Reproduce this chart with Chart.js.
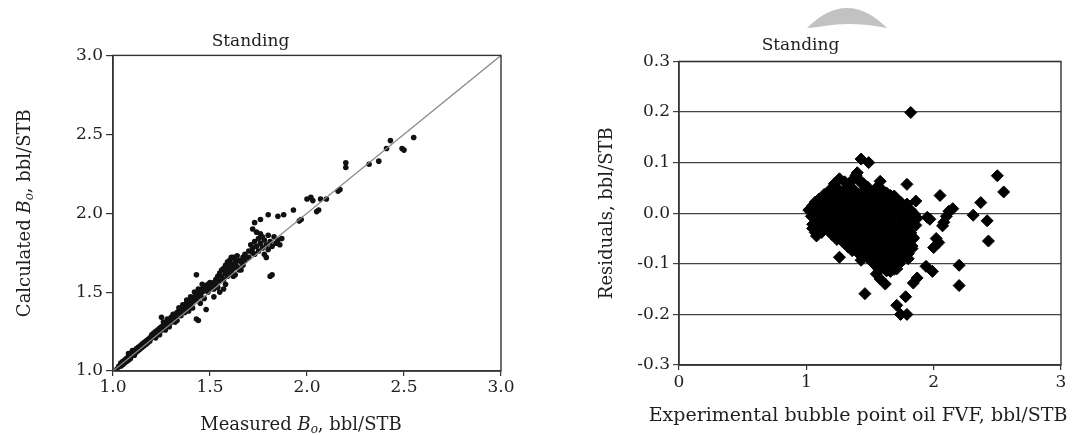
<!DOCTYPE html>
<html>
<head>
<meta charset="utf-8">
<script src="https://cdn.jsdelivr.net/npm/chart.js@4.4.0/dist/chart.umd.min.js"></script>
<style>
  html, body { margin: 0; padding: 0; background: #fff; }
  #wrap { position: relative; width: 1072px; height: 435px; }
  #left { position: absolute; left: 0; top: 0; width: 540px; height: 435px; }
  #right { position: absolute; left: 540px; top: 0; width: 532px; height: 435px; }
</style>
</head>
<body>
<div id="wrap">
  <div id="left"><canvas id="chartLeft"></canvas></div>
  <div id="right"><canvas id="chartRight"></canvas></div>
</div>
<script>
// left panel: measured vs calculated Bo (bbl/STB)
const measuredBo = [
  1.02,1.03,1.04,1.04,1.05,1.05,1.06,1.06,1.07,1.07,
  1.08,1.08,1.08,1.09,1.09,1.10,1.10,1.11,1.11,1.12,
  1.12,1.13,1.13,1.14,1.14,1.15,1.15,1.16,1.16,1.17,
  1.17,1.18,1.18,1.19,1.19,1.20,1.20,
  1.21,1.21,1.22,1.22,1.22,1.23,1.23,1.24,1.24,1.24,
  1.25,1.25,1.25,1.26,1.26,1.26,1.27,1.27,1.27,1.28,
  1.28,1.28,1.29,1.29,1.29,1.30,1.30,1.30,1.31,1.31,
  1.31,1.32,1.32,1.32,1.33,1.33,1.33,1.34,1.34,1.34,
  1.35,1.35,1.35,1.36,1.36,1.36,1.37,1.37,1.37,1.38,
  1.38,1.38,1.39,1.39,1.39,1.40,1.40,1.40,1.41,1.41,
  1.41,1.42,1.42,1.42,1.43,1.43,1.43,1.43,1.44,1.44,
  1.44,1.44,1.45,1.45,1.45,1.46,1.46,1.46,1.47,1.47,
  1.47,1.48,1.48,1.48,1.49,1.49,1.49,1.50,1.50,1.50,
  1.51,1.51,1.52,1.52,1.52,1.53,1.53,1.54,1.54,1.55,
  1.55,1.55,1.56,1.56,1.57,1.57,1.57,1.58,1.58,1.58,
  1.59,1.59,1.59,1.60,1.60,1.60,1.61,1.61,1.61,1.62,
  1.62,1.62,1.63,1.63,1.63,1.64,1.64,1.65,1.65,1.66,
  1.66,1.67,1.67,1.68,
  1.68,1.69,1.70,1.70,1.71,1.72,1.72,1.73,1.73,1.74,
  1.74,1.75,1.75,1.76,1.76,1.77,1.77,1.78,1.78,1.79,
  1.79,1.80,1.80,1.81,1.81,1.82,1.82,1.83,1.84,1.85,
  1.86,1.87,
  1.72,1.73,1.76,1.80,1.85,1.88,1.93,1.96,1.97,2.00,
  2.02,2.03,2.05,2.06,2.07,2.10,2.16,2.17,2.20,2.20,
  2.32,2.37,2.41,2.43,2.49,2.50,2.55
];
const calculatedBo = [
  1.01,1.03,1.03,1.05,1.06,1.04,1.07,1.05,1.08,1.06,
  1.09,1.07,1.11,1.10,1.08,1.11,1.13,1.12,1.10,1.14,
  1.12,1.15,1.13,1.16,1.14,1.17,1.15,1.18,1.16,1.19,
  1.17,1.20,1.18,1.21,1.19,1.23,1.21,
  1.22,1.24,1.25,1.23,1.21,1.26,1.24,1.27,1.25,1.23,
  1.28,1.26,1.34,1.29,1.27,1.31,1.30,1.28,1.26,1.31,
  1.29,1.33,1.32,1.30,1.28,1.34,1.31,1.33,1.34,1.32,
  1.36,1.36,1.33,1.31,1.37,1.35,1.32,1.38,1.36,1.40,
  1.39,1.37,1.35,1.40,1.38,1.42,1.42,1.39,1.37,1.43,
  1.40,1.45,1.44,1.41,1.38,1.45,1.42,1.47,1.46,1.44,
  1.40,1.47,1.45,1.50,1.49,1.46,1.33,1.61,1.50,1.47,
  1.32,1.52,1.51,1.48,1.43,1.52,1.50,1.55,1.53,1.51,
  1.46,1.54,1.52,1.39,1.55,1.53,1.50,1.54,1.52,1.56,
  1.55,1.53,1.56,1.52,1.47,1.58,1.55,1.53,1.60,1.57,
  1.62,1.50,1.60,1.64,1.65,1.58,1.52,1.67,1.62,1.55,
  1.69,1.64,1.60,1.66,1.70,1.62,1.63,1.68,1.72,1.72,
  1.65,1.60,1.68,1.61,1.70,1.73,1.66,1.70,1.64,1.64,
  1.69,1.72,1.67,1.70,
  1.74,1.72,1.76,1.72,1.80,1.78,1.75,1.74,1.82,1.79,
  1.88,1.84,1.76,1.81,1.87,1.78,1.85,1.83,1.74,1.80,
  1.72,1.86,1.77,1.82,1.60,1.79,1.61,1.85,1.81,1.83,
  1.80,1.84,
  1.90,1.94,1.96,1.99,1.98,1.99,2.02,1.95,1.96,2.09,
  2.10,2.08,2.01,2.02,2.09,2.09,2.14,2.15,2.32,2.29,
  2.31,2.33,2.41,2.46,2.41,2.40,2.48
];
const parityLine = [1.0, 3.0];
const boTicks = [1.0, 1.5, 2.0, 2.5, 3.0];

// right panel: residuals vs experimental bubble point oil FVF
const experimentalFvf = [
  1.40,1.43,1.49,
  1.22,1.30,1.36,1.40,1.45,1.58,
  1.26,1.33,1.39,1.43,1.48,1.55,
  1.18,1.25,1.32,1.38,1.44,1.52,1.60,1.66,
  1.14,1.21,1.28,1.35,1.41,1.48,1.56,1.63,1.69,
  1.10,1.15,1.20,1.27,1.34,1.41,1.47,1.55,1.62,1.70,1.74,
  1.07,1.13,1.19,1.24,1.31,1.38,1.44,1.51,1.58,1.66,1.72,1.79,
  1.05,1.10,1.16,1.22,1.29,1.36,1.43,1.50,1.57,1.64,1.71,1.77,
  1.03,1.08,1.13,1.19,1.26,1.33,1.40,1.47,1.54,1.61,1.68,1.75,1.82,
  1.02,1.06,1.12,1.18,1.24,1.30,1.37,1.44,1.51,1.58,1.65,1.72,1.79,1.85,
  1.04,1.10,1.16,1.21,1.27,1.34,1.41,1.47,1.55,1.62,1.69,1.76,1.82,1.87,
  1.08,1.14,1.20,1.27,1.34,1.41,1.48,1.55,1.62,1.76,1.83,
  1.05,1.11,1.17,1.24,1.31,1.38,1.45,1.52,1.59,1.66,1.73,1.79,1.86,
  1.06,1.16,1.23,1.30,1.37,1.44,1.51,1.58,1.65,1.72,1.80,
  1.12,1.19,1.26,1.33,1.40,1.47,1.54,1.61,1.68,1.75,1.82,
  1.08,1.20,1.27,1.34,1.41,1.48,1.55,1.62,1.69,1.76,1.84,
  1.24,1.31,1.38,1.45,1.52,1.59,1.66,1.73,1.80,
  1.30,1.37,1.44,1.51,1.58,1.65,1.72,1.79,
  1.33,1.40,1.48,1.55,1.62,1.69,1.76,1.83,
  1.36,1.45,1.52,1.59,1.66,1.73,1.80,
  1.42,1.49,1.56,1.63,1.70,1.77,
  1.49,1.55,1.62,1.69,1.76,
  1.52,1.58,1.65,1.72,
  1.55,1.61,1.68,1.73,
  1.57,1.63,1.69,
  1.55,1.58,1.62,1.66,1.71,
  1.82,1.79,1.86,2.05,2.15,2.12,2.10,2.08,2.07,1.95,
  1.97,2.31,2.37,2.42,2.43,2.50,2.55,2.20,2.20,2.02,
  2.04,2.00,1.99,1.94,1.87,1.84,1.78,1.71,1.74,1.79,
  1.46,1.26,1.43,1.07,1.05,1.84,1.83,1.80
];
const residuals = [
  0.080,0.107,0.100,
  0.058,0.062,0.065,0.070,0.058,0.063,
  0.068,0.057,0.075,0.060,0.052,0.050,
  0.045,0.048,0.050,0.045,0.042,0.040,0.045,0.035,
  0.037,0.040,0.038,0.041,0.036,0.038,0.037,0.040,0.034,
  0.028,0.030,0.032,0.030,0.028,0.030,0.025,0.030,0.028,0.030,0.022,
  0.022,0.024,0.023,0.021,0.023,0.022,0.020,0.022,0.024,0.021,0.020,0.018,
  0.015,0.015,0.018,0.015,0.016,0.014,0.012,0.016,0.013,0.015,0.012,0.010,
  0.009,0.008,0.007,0.009,0.008,0.006,0.007,0.009,0.006,0.008,0.005,0.007,0.006,
  0.006,0.002,0.000,-0.002,0.002,-0.003,0.000,-0.002,0.001,-0.003,0.000,-0.002,0.001,-0.002,
  -0.006,-0.008,-0.007,-0.009,-0.006,-0.008,-0.007,-0.009,-0.006,-0.008,-0.007,-0.006,-0.009,-0.010,
  -0.012,-0.015,-0.014,-0.016,-0.013,-0.017,-0.015,-0.012,-0.016,-0.014,-0.018,
  -0.022,-0.021,-0.023,-0.022,-0.024,-0.021,-0.023,-0.022,-0.024,-0.021,-0.023,-0.022,-0.024,
  -0.030,-0.028,-0.030,-0.032,-0.029,-0.031,-0.028,-0.030,-0.033,-0.030,-0.027,
  -0.038,-0.036,-0.038,-0.039,-0.037,-0.038,-0.036,-0.039,-0.038,-0.037,-0.039,
  -0.045,-0.042,-0.045,-0.047,-0.044,-0.046,-0.043,-0.048,-0.045,-0.044,-0.048,
  -0.052,-0.053,-0.051,-0.054,-0.052,-0.053,-0.055,-0.052,-0.054,
  -0.060,-0.062,-0.058,-0.061,-0.063,-0.060,-0.058,-0.062,
  -0.067,-0.068,-0.069,-0.067,-0.070,-0.068,-0.067,-0.070,
  -0.074,-0.078,-0.076,-0.074,-0.077,-0.075,-0.080,
  -0.082,-0.084,-0.083,-0.085,-0.082,-0.084,
  -0.090,-0.092,-0.088,-0.091,-0.089,
  -0.097,-0.099,-0.098,-0.096,
  -0.105,-0.108,-0.104,-0.100,
  -0.112,-0.114,-0.111,
  -0.120,-0.130,-0.140,-0.115,-0.110,
  0.199,0.057,0.024,0.035,0.009,0.004,-0.006,-0.018,-0.025,-0.008,
  -0.012,-0.004,0.021,-0.015,-0.055,0.074,0.042,-0.103,-0.143,-0.050,
  -0.058,-0.068,-0.115,-0.105,-0.128,-0.138,-0.165,-0.182,-0.200,-0.200,
  -0.159,-0.087,-0.093,-0.038,-0.030,-0.050,-0.065,-0.090
];

const FONT = 'DejaVu Serif';
const INK = '#1f1f1f';
Chart.defaults.font.family = FONT;
Chart.defaults.font.size = 17;
Chart.defaults.color = INK;

// full box around the plot area
const frame = {
  id: 'frame',
  afterDatasetsDraw(chart) {
    const { ctx, chartArea: a } = chart;
    ctx.save();
    ctx.strokeStyle = '#333';
    ctx.lineWidth = 1.4;
    ctx.strokeRect(a.left, a.top, a.right - a.left, a.bottom - a.top);
    ctx.restore();
  }
};

function drawRich(ctx, parts, cx, cy, rotate) {
  ctx.save();
  ctx.translate(cx, cy);
  if (rotate) ctx.rotate(-Math.PI / 2);
  ctx.textBaseline = 'middle';
  ctx.fillStyle = INK;
  let total = 0;
  parts.forEach(p => { ctx.font = p.font; total += ctx.measureText(p.text).width; });
  let x = -total / 2;
  parts.forEach(p => {
    ctx.font = p.font;
    ctx.fillText(p.text, x, p.dy || 0);
    x += ctx.measureText(p.text).width;
  });
  ctx.restore();
}

function boParts(prefix) {
  return [
    { text: prefix, font: '18px "DejaVu Serif"' },
    { text: 'B', font: 'italic 18px "DejaVu Serif"' },
    { text: 'o', font: 'italic 12px "DejaVu Serif"', dy: 5 },
    { text: ', bbl/STB', font: '18px "DejaVu Serif"' }
  ];
}

const boTitles = {
  id: 'boTitles',
  afterDraw(chart) {
    const { ctx, chartArea: a } = chart;
    drawRich(ctx, boParts('Measured '), (a.left + a.right) / 2 - 6, 425, false);
    drawRich(ctx, boParts('Calculated '), 25, (a.top + a.bottom) / 2, true);
  }
};

new Chart(document.getElementById('chartLeft'), {
  type: 'scatter',
  data: {
    datasets: [{
      type: 'line',
      data: parityLine.map(v => ({ x: v, y: v })),
      borderColor: '#8a8a8a',
      borderWidth: 1.3,
      pointRadius: 0
    }, {
      data: measuredBo.map((m, i) => ({ x: m, y: calculatedBo[i] })),
      backgroundColor: '#111',
      borderColor: '#111',
      borderWidth: 0,
      pointRadius: 2.8
    }]
  },
  options: {
    responsive: true,
    maintainAspectRatio: false,
    animation: false,
    layout: { padding: { left: 0, right: 39, top: 0, bottom: 0 } },
    plugins: {
      legend: { display: false },
      tooltip: { enabled: false },
      title: {
        display: true,
        text: 'Standing',
        font: { size: 17, weight: 'normal' },
        color: INK,
        padding: { top: 31, bottom: 4 }
      }
    },
    scales: {
      x: {
        type: 'linear', min: 1, max: 3,
        afterBuildTicks: s => { s.ticks = boTicks.map(v => ({ value: v })); },
        ticks: { callback: v => v.toFixed(1), padding: 1, maxRotation: 0 },
        grid: { drawOnChartArea: false, tickLength: 5, color: '#333', lineWidth: 1.2 },
        border: { color: '#333', width: 1.4 },
        afterFit: s => { s.height = 64; }
      },
      y: {
        type: 'linear', min: 1, max: 3,
        afterBuildTicks: s => { s.ticks = boTicks.map(v => ({ value: v })); },
        ticks: { callback: v => v.toFixed(1), padding: 3 },
        grid: { drawOnChartArea: false, tickLength: 7, color: '#333', lineWidth: 1.2 },
        border: { color: '#333', width: 1.4 },
        afterFit: s => { s.width = 113; }
      }
    }
  },
  plugins: [frame, boTitles]
});

// grey smudge above the right panel title
const smudge = {
  id: 'smudge',
  beforeDraw(chart) {
    const ctx = chart.ctx;
    ctx.save();
    ctx.fillStyle = '#c2c2c2';
    ctx.beginPath();
    ctx.moveTo(267, 28);
    ctx.quadraticCurveTo(307, -12, 347, 28);
    ctx.quadraticCurveTo(312, 21, 284, 26);
    ctx.quadraticCurveTo(276, 27.5, 267, 28);
    ctx.closePath();
    ctx.fill();
    ctx.restore();
  }
};

// x title is wider than the plot, so it is drawn here rather than by the scale
const fvfTitle = {
  id: 'fvfTitle',
  afterDraw(chart) {
    drawRich(chart.ctx, [{ text: 'Experimental bubble point oil FVF, bbl/STB', font: '19px "DejaVu Serif"' }], 318, 416, false);
  }
};

new Chart(document.getElementById('chartRight'), {
  type: 'scatter',
  data: {
    datasets: [{
      data: experimentalFvf.map((x, i) => ({ x: x, y: residuals[i] })),
      pointStyle: 'rectRot',
      pointRadius: 6,
      backgroundColor: '#000',
      borderColor: '#000',
      borderWidth: 1
    }]
  },
  options: {
    responsive: true,
    maintainAspectRatio: false,
    animation: false,
    layout: { padding: { left: 0, right: 11, top: 0, bottom: 0 } },
    plugins: {
      legend: { display: false },
      tooltip: { enabled: false },
      title: {
        display: true,
        text: 'Standing',
        font: { size: 17, weight: 'normal' },
        color: INK,
        padding: { top: 35, bottom: 6 }
      }
    },
    scales: {
      x: {
        type: 'linear', min: 0, max: 3,
        ticks: { stepSize: 1, padding: 2, maxRotation: 0 },
        grid: { drawOnChartArea: false, tickLength: 5, color: '#333', lineWidth: 1.2 },
        border: { color: '#333', width: 1.4 },
        afterFit: s => { s.height = 70; }
      },
      y: {
        type: 'linear', min: -0.3, max: 0.3,
        ticks: {
          stepSize: 0.1, padding: 3,
          callback: v => Math.abs(v) < 1e-9 ? '0.0' : v.toFixed(1)
        },
        grid: { tickLength: 6, color: '#444', lineWidth: 1.2 },
        border: { color: '#333', width: 1.4 },
        title: {
          display: true,
          text: 'Residuals, bbl/STB',
          font: { size: 18 },
          color: INK,
          padding: { top: 57, bottom: 0 }
        },
        afterFit: s => { s.width = 139; }
      }
    }
  },
  plugins: [frame, smudge, fvfTitle]
});
</script>
</body>
</html>
